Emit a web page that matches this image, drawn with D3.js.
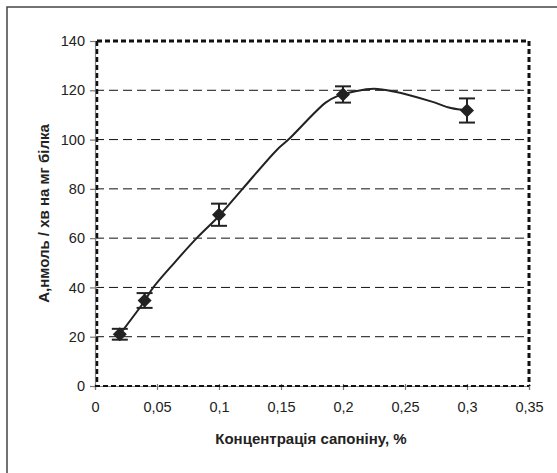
<!DOCTYPE html>
<html><head><meta charset="utf-8">
<script src="https://cdn.jsdelivr.net/npm/d3@7"></script>
<style>
html,body{margin:0;padding:0;background:#fff;}
svg{display:block;font-family:"Liberation Sans",Arial,sans-serif;}
</style></head>
<body>
<svg id="chart" width="557" height="473"></svg>
<script>
// Measured points (saponin concentration, %)
const concentrations = [0.02, 0.04, 0.1, 0.2, 0.3];
const activity = [21, 34.7, 69.5, 118.3, 111.8];
const errors = [2.2, 3, 4.5, 3.3, 4.9];
// Smoothed curve
const curveX = [0.02, 0.04, 0.047, 0.064, 0.082, 0.1, 0.119, 0.147, 0.156, 0.186, 0.195, 0.21, 0.225, 0.241, 0.271, 0.287, 0.3];
const curveY = [21, 34.5, 40, 50, 60, 69, 80, 96, 100, 115, 117.5, 119.6, 120.6, 119.5, 115.5, 112.8, 111.9];
const xTicks = [0, 0.05, 0.1, 0.15, 0.2, 0.25, 0.3, 0.35];
const yTicks = [0, 20, 40, 60, 80, 100, 120, 140];
const xTitle = "Концентрація сапоніну, %";
const yTitle = "А,нмоль / хв на мг білка";

const svg = d3.select("#chart");
const L = 95, R = 529, T = 41, B = 386;
const x = d3.scaleLinear().domain([0, 0.35]).range([L, R]);
const y = d3.scaleLinear().domain([0, 140]).range([B, T]);
const fmt = d => d === 0 ? "0" : String(d).replace(".", ",");

// outer frame
svg.append("rect").attr("x", 7).attr("y", 7).attr("width", 620).attr("height", 620)
  .attr("fill", "none").attr("stroke", "#444").attr("stroke-width", 1.5);

// gridlines
svg.append("g").selectAll("line").data(yTicks.filter(d => d > 0 && d < 140)).join("line")
  .attr("x1", L).attr("x2", R).attr("y1", d => y(d)).attr("y2", d => y(d))
  .attr("stroke", "#111").attr("stroke-width", 1).attr("stroke-dasharray", "9,5");

// axes
const yAxis = d3.axisLeft(y).tickValues(yTicks).tickFormat(d => d).tickSize(5).tickPadding(5);
const gy = svg.append("g").attr("transform", `translate(${L},0)`).call(yAxis);
const xAxis = d3.axisBottom(x).tickValues(xTicks).tickFormat(fmt).tickSize(4).tickPadding(12);
const gx = svg.append("g").attr("transform", `translate(0,${B})`).call(xAxis);
[gx, gy].forEach(g => {
  g.select(".domain").attr("stroke", "#888").attr("stroke-width", 1.2);
  g.selectAll(".tick line").attr("stroke", "#777").attr("stroke-width", 1.2);
  g.selectAll(".tick text").attr("fill", "#222").attr("font-size", 14.5)
    .attr("font-family", "'Liberation Sans',Arial,sans-serif");
});
gy.selectAll(".tick line").attr("x1", 2);
gx.selectAll(".tick line").attr("y1", -2);

// dashed plot-area border
const bd = svg.append("g").attr("fill", "none").attr("stroke", "#111").attr("stroke-width", 3).attr("stroke-dasharray", "5,3");
bd.append("line").attr("x1", L + 2).attr("x2", R).attr("y1", T).attr("y2", T);
bd.append("line").attr("x1", R).attr("x2", R).attr("y1", T).attr("y2", B);
bd.append("line").attr("x1", L + 2).attr("x2", L + 2).attr("y1", T).attr("y2", B).attr("stroke-width", 2.5);
bd.append("line").attr("x1", L).attr("x2", R).attr("y1", B).attr("y2", B).attr("stroke-width", 2);

// curve
const curveData = curveX.map((d, i) => [d, curveY[i]]);
svg.append("path").datum(curveData)
  .attr("d", d3.line().x(d => x(d[0])).y(d => y(d[1])).curve(d3.curveCatmullRom.alpha(0.5)))
  .attr("fill", "none").attr("stroke", "#222").attr("stroke-width", 2);

// error bars
const pts = concentrations.map((c, i) => ({c, v: activity[i], e: errors[i]}));
const eb = svg.append("g").attr("stroke", "#222").attr("stroke-width", 2);
eb.selectAll(".v").data(pts).join("line")
  .attr("x1", d => x(d.c)).attr("x2", d => x(d.c)).attr("y1", d => y(d.v + d.e)).attr("y2", d => y(d.v - d.e));
eb.selectAll(".t").data(pts).join("line")
  .attr("x1", d => x(d.c) - 8).attr("x2", d => x(d.c) + 8).attr("y1", d => y(d.v + d.e)).attr("y2", d => y(d.v + d.e));
eb.selectAll(".b").data(pts).join("line")
  .attr("x1", d => x(d.c) - 8).attr("x2", d => x(d.c) + 8).attr("y1", d => y(d.v - d.e)).attr("y2", d => y(d.v - d.e));

// diamond markers
svg.append("g").selectAll("path").data(pts).join("path")
  .attr("transform", d => `translate(${x(d.c)},${y(d.v)})`)
  .attr("d", "M0,-7L7,0L0,7L-7,0Z").attr("fill", "#222");

// titles
svg.append("text").attr("x", 311).attr("y", 444).attr("text-anchor", "middle")
  .attr("font-size", 15).attr("font-weight", "bold").attr("fill", "#222").text(xTitle);
svg.append("text").attr("transform", `translate(49,${(T + B) / 2}) rotate(-90)`).attr("text-anchor", "middle")
  .attr("font-size", 15).attr("font-weight", "bold").attr("fill", "#222").text(yTitle);
</script>
</body></html>
